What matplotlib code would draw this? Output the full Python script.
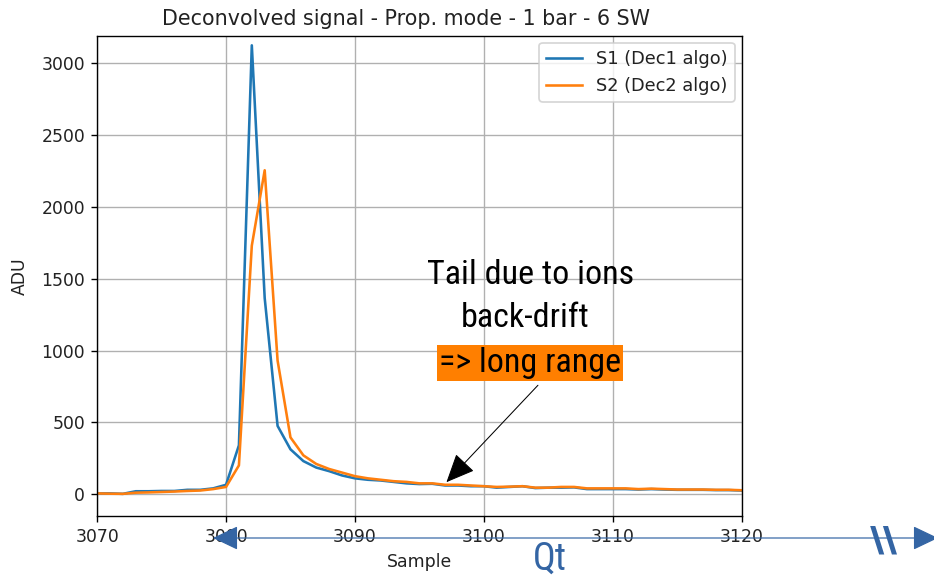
import numpy as np
import matplotlib
matplotlib.use('Agg')
import matplotlib.pyplot as plt

# samples shown on the x axis
samples = np.arange(3070, 3121)

# S1 (Dec1 algo)
s1 = [5, 5, 2, 20, 20, 22, 22, 30, 30, 40,
      65, 340, 3125, 1365, 475, 312, 230, 185, 160, 130,
      110, 100, 95, 85, 75, 70, 72, 60, 60, 55,
      55, 45, 50, 55, 42, 45, 45, 47, 35, 35,
      35, 35, 32, 35, 32, 30, 30, 30, 28, 28, 25]

# S2 (Dec2 algo)
s2 = [5, 3, 2, 10, 12, 15, 18, 22, 25, 35,
      50, 200, 1730, 2255, 930, 395, 270, 210, 175, 150,
      125, 110, 100, 90, 85, 75, 75, 65, 65, 60,
      55, 50, 52, 55, 45, 45, 50, 50, 40, 40,
      40, 40, 35, 38, 35, 32, 32, 32, 30, 30, 27]

labels = ['S1 (Dec1 algo)', 'S2 (Dec2 algo)']
note_lines = ['Tail due to ions', 'back-drift', '=> long range']

narrow = ['Liberation Sans Narrow', 'Roboto Condensed', 'DejaVu Sans']
slide_blue = '#3465a4'

plt.rcParams['text.color'] = '#222222'
plt.rcParams['axes.labelcolor'] = '#222222'
plt.rcParams['xtick.labelcolor'] = '#222222'
plt.rcParams['ytick.labelcolor'] = '#222222'

# the matplotlib figure was scaled up ~1.24x in the slide
DPI = 124
fig = plt.figure(figsize=(934 / DPI, 576 / DPI), dpi=DPI)
ax = fig.add_axes([0.104, 0.104, 0.690, 0.834])

plt.plot(samples, s1, label=labels[0])
plt.plot(samples, s2, label=labels[1])
plt.xlim(3070, 3120)
plt.ylim(-153, 3192)
plt.xticks([3070, 3080, 3090, 3100, 3110, 3120])
plt.grid()
plt.legend(loc='upper right', fontsize=10.3, borderaxespad=0.4)
plt.title('Deconvolved signal - Prop. mode - 1 bar - 6 SW', x=0.48)
plt.xlabel('Sample')
plt.ylabel('ADU', labelpad=7)

# annotation text over the tail
ax.text(3103.6, 1524, note_lines[0], ha='center', va='center',
        fontsize=19.8, family=narrow, color='black')
ax.text(3103.2, 1225, note_lines[1], ha='center', va='center',
        fontsize=19.8, family=narrow, color='black')
ax.text(3103.6, 912, note_lines[2], ha='center', va='center',
        fontsize=19.8, family=narrow, color='black',
        bbox=dict(boxstyle='square,pad=0.06', fc='#ff7f00', ec='none'))

ax.annotate('', xy=(3097.1, 83), xytext=(3104.2, 758),
            arrowprops=dict(arrowstyle='-|>,head_length=1.45,head_width=0.64',
                            color='black', lw=0.6, shrinkA=0, shrinkB=0))

# slide overlay: Qt double arrow below the axis
ax.annotate('', xy=(213, 38), xytext=(938, 38), xycoords='figure pixels',
            textcoords='figure pixels', annotation_clip=False,
            arrowprops=dict(arrowstyle='<|-|>,head_length=1.28,head_width=0.61',
                            color=slide_blue, lw=0.7, shrinkA=0, shrinkB=0))
fig.text(550 / 934, 1 - 559 / 576, 'Qt', ha='center', va='center',
         fontsize=22, family=narrow, color=slide_blue)
fig.text(884 / 934, 1 - 542 / 576, '\\\\', ha='center', va='center',
         fontsize=21, family=narrow, color=slide_blue, weight='bold')

plt.savefig('out.png', dpi=DPI)
